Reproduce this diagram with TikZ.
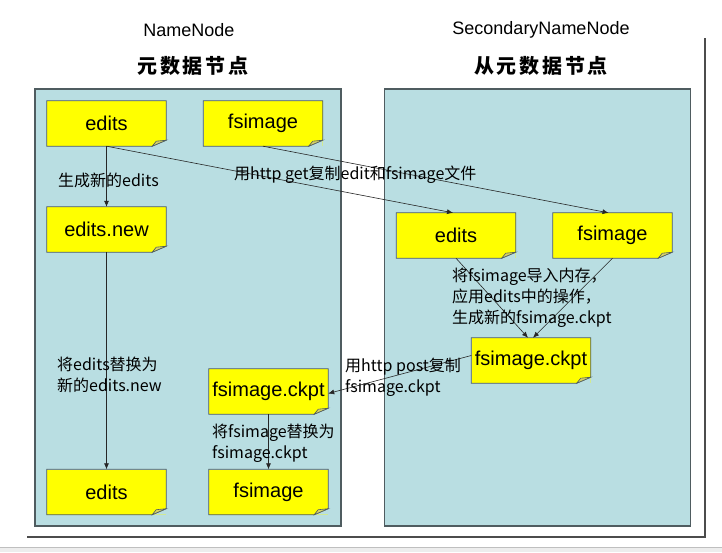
\documentclass[tikz,border=0pt]{standalone}
\usepackage{fontspec}
\setmainfont{Liberation Sans}
\newfontfamily\cjk{Noto Sans CJK SC}
\newfontfamily\cjktitle[LetterSpace=14]{Noto Sans CJK SC}
\usetikzlibrary{arrows.meta,positioning}
\definecolor{panelblue}{HTML}{B9DEE2}
\definecolor{noteyellow}{HTML}{FFFF00}
\definecolor{foldyellow}{HTML}{D8D266}
\definecolor{edgegray}{HTML}{4F5C60}

\begin{document}
\begin{tikzpicture}[
  x=1pt, y=-1pt,
  font=\fontsize{20}{24}\selectfont,
  panel/.style={draw=edgegray, fill=panelblue, line width=1.1pt, minimum width=306pt, minimum height=437pt, inner sep=0pt},
  note/.style={fill=noteyellow, minimum width=119pt, minimum height=45pt, inner sep=0pt},
  hdr/.style={font=\fontsize{18}{22}\selectfont},
  cntitle/.style={font=\cjktitle\bfseries\fontsize{20}{24}\selectfont},
  lbl/.style={font=\cjk\fontsize{16}{21}\selectfont, align=left, anchor=west, inner sep=0pt},
  flow/.style={-{Latex[length=6pt,width=5pt]}, draw=black!85, line width=0.6pt}
]
\useasboundingbox (0,0) rectangle (722,552);

% page frame and shadow
\fill[black!7] (0,547) rectangle (722,552);
\draw[black!25] (0,547) -- (722,547);
\draw[black!70, line width=2.4pt] (27,537) -- (705,537) -- (705,38);

% panels and titles
\node[panel] (nnpanel) at (188,307.5) {};
\node[panel] (snnpanel) at (537.5,307.5) {};
\node[hdr] (nnname) at (189,30) {NameNode};
\node[hdr] (snnname) at (541,30) {SecondaryNameNode};
\node[cntitle] (nntitle) at (193,66) {元数据节点};
\node[cntitle] (snntitle) at (541,66) {从元数据节点};

% files
\node[note] (edits) at (106.5,123.5) {edits};
\node[note] (fsimage) at (263,123.5) {fsimage};
\node[note] (editsnew) at (106.5,229.5) {edits.new};
\node[note] (editsout) at (106.5,492) {edits};
\node[note] (ckpt) at (268.5,391.5) {fsimage.ckpt};
\node[note] (fsimageout) at (268.5,492) {fsimage};
\node[note] (sedits) at (456,235.5) {edits};
\node[note] (sfsimage) at (612.5,235.5) {fsimage};
\node[note] (sckpt) at (531,360.5) {fsimage.ckpt};

% folded corners
\foreach \n in {edits,fsimage,editsnew,editsout,ckpt,fsimageout,sedits,sfsimage,sckpt}{
  \fill[panelblue] ([xshift=-14pt]\n.south east) -- (\n.south east) -- ([yshift=6pt]\n.south east) -- cycle;
  \draw[edgegray, line width=0.8pt] (\n.north west) -- (\n.north east) -- ([yshift=6pt]\n.south east)
    -- ([xshift=-14pt]\n.south east) -- (\n.south west) -- cycle;
  \filldraw[fill=foldyellow, draw=edgegray, line width=0.6pt] ([xshift=-14pt]\n.south east)
    -- ([yshift=6pt]\n.south east) -- ([xshift=-10pt,yshift=5pt]\n.south east) -- cycle;
}

% connectors
\draw[flow] (edits.south) -- (editsnew.north);
\draw[flow] (edits.south) -- ([xshift=-3pt]sedits.north);
\draw[flow] (fsimage.south) -- ([xshift=-4pt]sfsimage.north);
\draw[flow] (editsnew.south) -- (editsout.north);
\draw[flow] (sedits.south) -- ([xshift=-3pt]sckpt.north);
\draw[flow] (sfsimage.south) -- ([xshift=2pt]sckpt.north);
\draw[flow] ([yshift=5pt]sckpt.west) -- ([yshift=-2pt]ckpt.east);
\draw[flow] (ckpt.south) -- (fsimageout.north);

% labels
\node[lbl] (lblnew) at (58,180) {生成新的edits};
\node[lbl] (lblget) at (234,175) {用http get复制edit和fsimage文件};
\node[lbl] (lblswap) at (57,374.5) {将edits替换为\\新的edits.new};
\node[lbl] (lblmerge) at (452,298) {将fsimage导入内存，\\应用edits中的操作，\\生成新的fsimage.ckpt};
\node[lbl] (lblpost) at (345,377) {用http post复制\\fsimage.ckpt};
\node[lbl] (lblimg) at (212,443) {将fsimage替换为\\fsimage.ckpt};
\end{tikzpicture}
\end{document}
